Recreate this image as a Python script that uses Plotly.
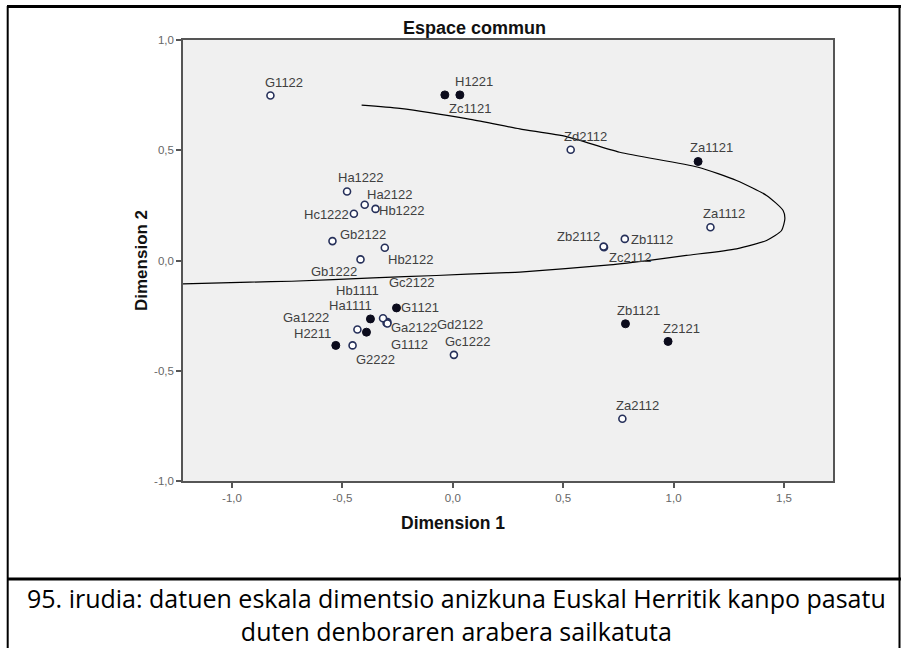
import plotly.graph_objects as go

# object points (Dimension 1, Dimension 2)
labels = ["G1122", "H1221", "Zc1121", "Zd2112", "Za1121", "Za1112", "Zb2112",
          "Zb1112", "Zc2112", "Zb1121", "Z2121", "Za2112", "Ha1222", "Ha2122",
          "Hb1222", "Hc1222", "Gb2122", "Hb2122", "Gb1222", "Gc2122", "Hb1111",
          "Ha1111", "G1121", "Ga1222", "Ga2122", "Gd2122", "H2211", "G1112",
          "G2222", "Gc1222"]
dim1 = [-0.826, 0.032, -0.036, 0.534, 1.111, 1.167, 0.685,
        0.779, 0.683, 0.782, 0.975, 0.768, -0.479, -0.399,
        -0.350, -0.448, -0.545, -0.308, -0.418, -0.296, -0.391,
        -0.373, -0.255, -0.432, -0.300, -0.316, -0.530, -0.296,
        -0.454, 0.005]
dim2 = [0.748, 0.751, 0.751, 0.502, 0.449, 0.151, 0.060,
        0.098, 0.063, -0.287, -0.367, -0.718, 0.313, 0.253,
        0.234, 0.212, 0.088, 0.058, 0.005, -0.279, -0.325,
        -0.265, -0.215, -0.313, -0.283, -0.262, -0.385, -0.286,
        -0.385, -0.428]

# fit curve
curve_x = [-1.222, -0.919, -0.730, -0.361, -0.074, 0.213, 0.303, 0.711, 0.907,
           1.058, 1.285, 1.421, 1.489, 1.504, 1.496, 1.421, 1.285, 1.111, 0.756,
           0.515, 0.303, 0.080, -0.240, -0.413]
curve_y = [-0.106, -0.098, -0.094, -0.079, -0.068, -0.056, -0.053, -0.020, 0.003,
           0.023, 0.053, 0.091, 0.136, 0.189, 0.227, 0.295, 0.363, 0.423, 0.491,
           0.562, 0.597, 0.640, 0.690, 0.705]

x_ticks = [-1.0, -0.5, 0.0, 0.5, 1.0, 1.5]
x_ticktext = ["-1,0", "-0,5", "0,0", "0,5", "1,0", "1,5"]
y_ticks = [-1.0, -0.5, 0.0, 0.5, 1.0]
y_ticktext = ["-1,0", "-0,5", "0,0", "0,5", "1,0"]

title = "Espace commun"
caption = ["95. irudia: datuen eskala dimentsio anizkuna Euskal Herritik kanpo pasatu",
           "duten denboraren arabera sailkatuta"]

# label placement relative to its point, in pixels (dx, dy up)
label_offsets = [(14, 13), (14, 13), (25, -14), (15, 13), (13, 14), (14, 14), (-26, 11),
                 (27, -1), (26, -11), (13, 13), (13, 13), (15, 13), (14, 14), (25, 10),
                 (26, -2), (-27, -1), (31, 7), (26, -12), (-27, -12), (25, 40), (-9, 42),
                 (-20, 13), (23, 0), (-51, 12), (27, -5), (77, -6), (-23, 12), (22, -21),
                 (23, -14), (14, 13)]

W, H = 901, 648
L, R, T, B = 183, 833, 40, 481   # plot area in pixels


def px(x):   # pixel -> paper x
    return (x - L) / (R - L)


def py(y):   # pixel -> paper y
    return (B - y) / (B - T)


filled = [lab.endswith("1") for lab in labels]
open_x = [x for x, f in zip(dim1, filled) if not f]
open_y = [y for y, f in zip(dim2, filled) if not f]
fill_x = [x for x, f in zip(dim1, filled) if f]
fill_y = [y for y, f in zip(dim2, filled) if f]

fig = go.Figure()

fig.add_trace(go.Scatter(x=curve_x, y=curve_y, mode="lines",
                         line=dict(color="black", width=1.2, shape="spline", smoothing=0.6),
                         hoverinfo="skip"))
fig.add_trace(go.Scatter(x=fill_x, y=fill_y, mode="markers",
                         marker=dict(symbol="circle", size=8, color="#0b0b1c",
                                     line=dict(color="#0b0b1c", width=1))))
fig.add_trace(go.Scatter(x=open_x, y=open_y, mode="markers",
                         marker=dict(symbol="circle", size=7, color="white",
                                     line=dict(color="#26305a", width=1.6))))

for lab, x, y, (dx, dy) in zip(labels, dim1, dim2, label_offsets):
    fig.add_annotation(x=x, y=y, xref="x", yref="y", text=lab, showarrow=False,
                       xshift=dx, yshift=dy, xanchor="center", yanchor="middle",
                       font=dict(family="Liberation Sans, Arial", size=13, color="#404040"))

# chart title and axis titles
head = dict(xref="paper", yref="paper", showarrow=False, xanchor="center", yanchor="middle")
fig.add_annotation(x=px(474), y=py(28), text="<b>" + title + "</b>",
                   font=dict(family="Liberation Sans, Arial", size=18, color="#111"), **head)
fig.add_annotation(x=px(453), y=py(523), text="<b>Dimension 1</b>",
                   font=dict(family="Liberation Sans, Arial", size=17.5, color="#111"), **head)
fig.add_annotation(x=px(141), y=py(261), text="<b>Dimension 2</b>", textangle=-90,
                   font=dict(family="Liberation Sans, Arial", size=17, color="#111"), **head)

# figure caption (two centred lines)
fig.add_annotation(x=px(456), y=py(614), text="<br>".join(caption), align="center",
                   font=dict(family="Open Sans", size=25, color="black"), **head)

# table frame around chart and caption
frame = [(7, 6.5, 901, 6.5, 3), (7.7, 6, 7.7, 648, 2), (7, 579, 901, 579, 3), (899.5, 6, 899.5, 648, 2)]
for x0, y0, x1, y1, w in frame:
    fig.add_shape(type="line", xref="paper", yref="paper",
                  x0=px(x0), y0=py(y0), x1=px(x1), y1=py(y1),
                  line=dict(color="black", width=w))

axis_common = dict(showgrid=False, zeroline=False, showline=True, mirror=True,
                   linecolor="#555", linewidth=1.5, ticks="outside", ticklen=5,
                   tickcolor="#555", tickwidth=1.5,
                   tickfont=dict(family="Liberation Sans, Arial", size=11.5, color="#666"))
fig.update_xaxes(range=[-1.222, 1.722], tickvals=x_ticks, ticktext=x_ticktext, **axis_common)
fig.update_yaxes(range=[-1.0, 1.0], tickvals=y_ticks, ticktext=y_ticktext, **axis_common)

fig.update_layout(width=W, height=H, showlegend=False,
                  margin=dict(l=L, r=W - R, t=T, b=H - B),
                  plot_bgcolor="#f0f0f0", paper_bgcolor="white")

# drop the default page margin so the figure sits at the window's corner
fig.write_html("out.html", config={"displayModeBar": False},
               post_script="document.body.style.margin='0';")
